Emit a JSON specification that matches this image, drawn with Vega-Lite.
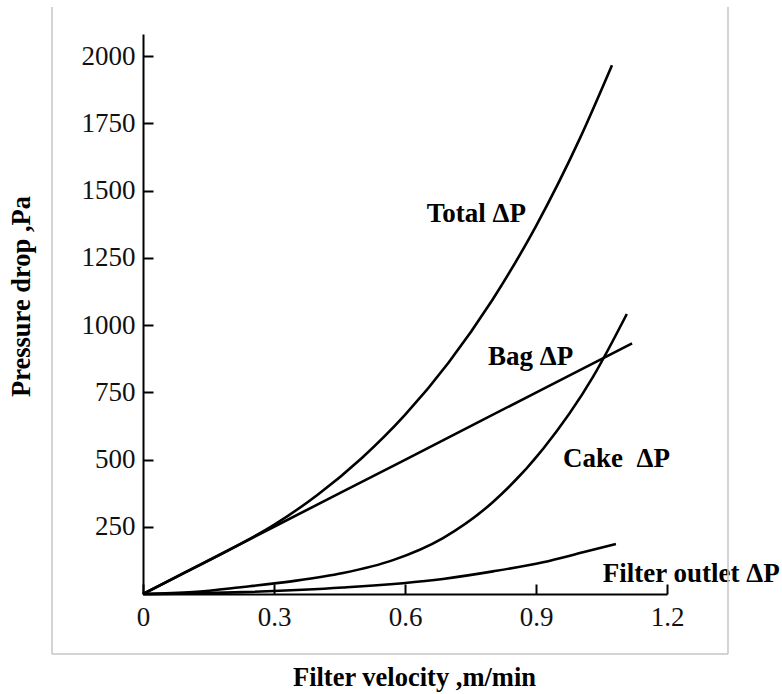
{
  "$schema": "https://vega.github.io/schema/vega-lite/v6.json",
  "width": 524,
  "height": 560,
  "autosize": {"type": "none"},
  "padding": {"left": 143, "top": 34, "right": 115, "bottom": 100},
  "background": "white",
  "config": {"view": {"stroke": null}, "font": "Liberation Serif"},
  "layer": [
    {
      "data": {
        "values": [
          {"series": "Total", "v": 0, "p": 0},
          {"series": "Total", "v": 0.1, "p": 83},
          {"series": "Total", "v": 0.2, "p": 166},
          {"series": "Total", "v": 0.3, "p": 257},
          {"series": "Total", "v": 0.4, "p": 369},
          {"series": "Total", "v": 0.5, "p": 504},
          {"series": "Total", "v": 0.6, "p": 666},
          {"series": "Total", "v": 0.7, "p": 861},
          {"series": "Total", "v": 0.8, "p": 1093},
          {"series": "Total", "v": 0.9, "p": 1368},
          {"series": "Total", "v": 1.0, "p": 1692},
          {"series": "Total", "v": 1.074, "p": 1966},
          {"series": "Bag", "v": 0, "p": 0},
          {"series": "Bag", "v": 0.3, "p": 250},
          {"series": "Bag", "v": 0.6, "p": 499},
          {"series": "Bag", "v": 0.9, "p": 749},
          {"series": "Bag", "v": 1.12, "p": 932},
          {"series": "Cake", "v": 0, "p": 0},
          {"series": "Cake", "v": 0.1145, "p": 7},
          {"series": "Cake", "v": 0.229, "p": 26},
          {"series": "Cake", "v": 0.3435, "p": 48},
          {"series": "Cake", "v": 0.458, "p": 78},
          {"series": "Cake", "v": 0.5725, "p": 126},
          {"series": "Cake", "v": 0.687, "p": 208},
          {"series": "Cake", "v": 0.8015, "p": 342},
          {"series": "Cake", "v": 0.916, "p": 539},
          {"series": "Cake", "v": 1.0305, "p": 807},
          {"series": "Cake", "v": 1.108, "p": 1041},
          {"series": "Outlet", "v": 0, "p": 0},
          {"series": "Outlet", "v": 0.229, "p": 7},
          {"series": "Outlet", "v": 0.458, "p": 24},
          {"series": "Outlet", "v": 0.687, "p": 56},
          {"series": "Outlet", "v": 0.8015, "p": 84},
          {"series": "Outlet", "v": 0.916, "p": 118},
          {"series": "Outlet", "v": 1.0076, "p": 155},
          {"series": "Outlet", "v": 1.083, "p": 186}
        ]
      },
      "mark": {"type": "line", "color": "black", "strokeWidth": 2.6, "interpolate": "monotone"},
      "encoding": {
        "x": {
          "field": "v", "type": "quantitative",
          "scale": {"domain": [0, 1.2], "nice": false, "zero": false},
          "axis": {
            "values": [0, 0.3, 0.6, 0.9, 1.2], "format": "~g", "grid": false,
            "tickSize": -10, "tickWidth": 2, "tickColor": "black",
            "domainColor": "black", "domainWidth": 2,
            "labelFont": "Liberation Serif", "labelFontSize": 27, "labelColor": "#111",
            "labelPadding": 20, "labelFlush": false, "labelOverlap": false,
            "title": "Filter velocity ,m/min", "titleFont": "Liberation Serif",
            "titleFontSize": 26.5, "titleFontWeight": "bold", "titleColor": "black",
            "titleX": 271, "titleY": 91, "titleBaseline": "alphabetic", "titleAlign": "center"
          }
        },
        "y": {
          "field": "p", "type": "quantitative",
          "scale": {"domain": [0, 2082], "nice": false},
          "axis": {
            "values": [250, 500, 750, 1000, 1250, 1500, 1750, 2000], "format": "d", "grid": false,
            "tickSize": -10, "tickWidth": 2, "tickColor": "black",
            "domainColor": "black", "domainWidth": 2,
            "labelFont": "Liberation Serif", "labelFontSize": 27, "labelColor": "#111",
            "labelPadding": 18, "labelOverlap": false,
            "title": "Pressure drop ,Pa", "titleFont": "Liberation Serif",
            "titleFontSize": 26.5, "titleFontWeight": "bold", "titleColor": "black",
            "titleX": -122, "titleY": 262, "titleBaseline": "middle", "titleAlign": "center", "titleAngle": -90
          }
        },
        "detail": {"field": "series", "type": "nominal"}
      }
    },
    {
      "data": {
        "values": [
          {"label": "Total ΔP", "v": 0.65, "p": 1383},
          {"label": "Bag ΔP", "v": 0.79, "p": 851},
          {"label": "Cake\u00a0 ΔP", "v": 0.962, "p": 472},
          {"label": "Filter outlet ΔP", "v": 1.053, "p": 45}
        ]
      },
      "mark": {"type": "text", "align": "left", "baseline": "alphabetic", "fontSize": 27, "fontWeight": "bold", "font": "Liberation Serif", "color": "black"},
      "encoding": {
        "x": {"field": "v", "type": "quantitative"},
        "y": {"field": "p", "type": "quantitative"},
        "text": {"field": "label", "type": "nominal"}
      }
    },
    {
      "data": {"values": [{}]},
      "mark": {"type": "rule", "color": "#c6c6c6", "strokeWidth": 1.5},
      "encoding": {"x": {"datum": -0.2084}, "y": {"datum": -223}, "y2": {"datum": 2182}}
    },
    {
      "data": {"values": [{}]},
      "mark": {"type": "rule", "color": "#c6c6c6", "strokeWidth": 1.5},
      "encoding": {"x": {"datum": 1.3397}, "y": {"datum": -223}, "y2": {"datum": 2182}}
    },
    {
      "data": {"values": [{}]},
      "mark": {"type": "rule", "color": "#c6c6c6", "strokeWidth": 1.5},
      "encoding": {"x": {"datum": -0.2084}, "x2": {"datum": 1.3397}, "y": {"datum": -223}}
    }
  ]
}
